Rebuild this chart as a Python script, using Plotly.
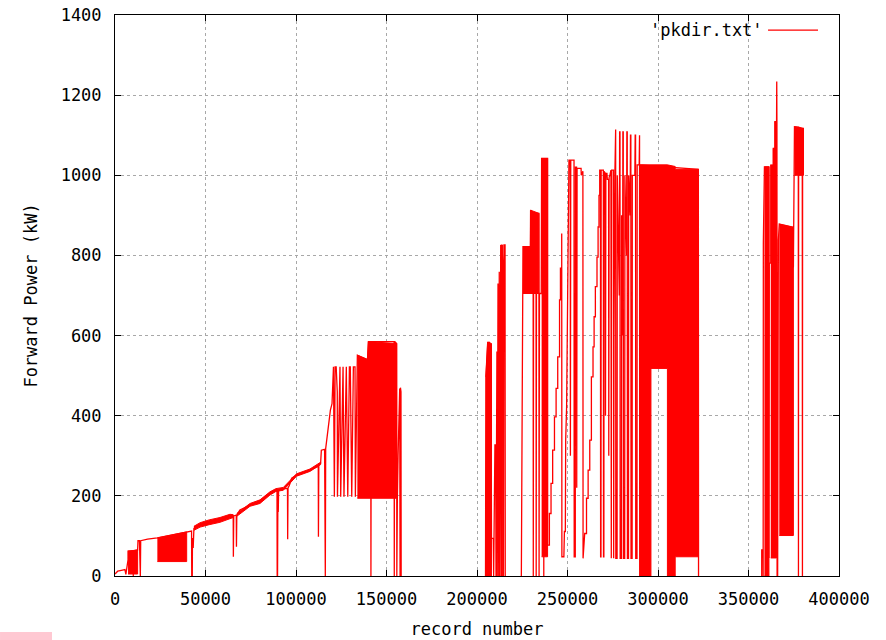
import plotly.graph_objects as go

# ---------------- data: (record number, forward power kW) ----------------
seg_low = [
    (0, 5), (1500, 12), (3500, 14), (5500, 16), (6000, 4), (6500, 16), (7200, 40), (7200, 62),
    (10000, 63), (10100, 0), (10300, 63), (12500, 65), (12700, 88), (13500, 88), (13700, 0),
    (14000, 0), (14200, 88), (18000, 92), (23400, 95), (31000, 102), (39600, 110), (41500, 112),
    (42300, 112), (42400, 0), (42700, 0), (42800, 95), (43200, 70), (43600, 119), (47000, 127),
    (52000, 133), (58000, 140), (63500, 150), (65300, 150), (65400, 48), (65600, 150),
    (67000, 152), (67100, 73), (67300, 152), (69000, 165), (74600, 177), (80100, 185),
    (85600, 206), (88900, 215), (89500, 215), (89600, 0), (89800, 0), (90000, 212), (90200, 160),
    (90400, 214), (93000, 218), (95300, 218), (95400, 92), (95600, 220), (96300, 226),
    (97600, 244), (100300, 252), (107700, 264), (111400, 272), (112300, 275), (112400, 98),
    (112600, 278), (113600, 281), (114000, 314), (115800, 316), (116000, 0), (116200, 0),
    (116400, 318), (117100, 348), (118000, 381), (119000, 414), (119900, 430), (120300, 522),
    (120700, 522), (121200, 198), (121600, 522), (122200, 522), (122800, 460), (122900, 198),
    (123900, 522), (124300, 522), (124700, 198), (125600, 522), (126000, 522), (126500, 198),
    (127400, 522), (127800, 522), (128600, 198), (129500, 522), (130000, 522), (130800, 198),
    (131700, 522), (132600, 522), (132800, 198), (133900, 551), (139500, 540), (140000, 585),
    (141300, 585), (141400, 0), (141600, 585), (154200, 585), (154300, 0), (154500, 585),
    (155600, 580), (155700, 0), (156000, 194), (156400, 300), (157000, 398), (157300, 468),
    (157500, 0), (157700, 470), (158000, 460), (158100, 0),
]

seg_c1 = [
    (204700, 0), (204900, 497), (205900, 583), (206800, 583), (206900, 0), (207000, 539),
    (207800, 580), (208000, 94), (209000, 94), (209200, 0), (209400, 94), (209900, 327),
    (210300, 327), (210500, 0), (210700, 560), (211000, 560), (211200, 0), (211600, 730),
    (212000, 0), (212300, 759), (212600, 0), (213100, 826), (213500, 0), (213800, 826),
    (214200, 785), (214600, 0), (214900, 826), (215500, 826), (215600, 0),
]

seg_c2 = [
    (224500, 0), (224700, 339), (224900, 123), (225100, 339), (225400, 822), (227000, 822),
    (227100, 705), (227300, 822), (229500, 822), (229600, 913), (231000, 905), (231100, 0),
    (231300, 905), (232600, 905), (232700, 0), (232900, 905), (234200, 905), (234300, 0),
    (234500, 705), (235500, 705), (235700, 1042), (236800, 1042), (236900, 0), (237100, 1042),
    (239000, 1042), (239000, 77), (240000, 77), (240000, 156), (240900, 156), (240900, 231),
    (241800, 231), (241800, 314), (242800, 314), (242800, 397), (243700, 397), (243700, 468),
    (244600, 468), (244600, 547), (245600, 547), (245600, 689), (246100, 689), (246100, 768),
    (246800, 768), (246800, 855), (246900, 855), (246900, 48), (248000, 48),
]

seg_c3 = [
    (248300, 111), (248800, 111), (249000, 339), (249500, 422), (250200, 868), (250800, 1038),
    (251500, 1038), (251600, 300), (251800, 1038), (253600, 1038), (253700, 48), (254300, 48),
    (254400, 1020), (255000, 1020), (255100, 220), (255300, 1017), (257500, 1017), (257600, 1000),
    (258500, 1010), (258600, 44), (259500, 106), (260500, 106), (260500, 194), (261400, 194),
    (261400, 264), (262300, 264), (262300, 339), (263200, 339), (263200, 497), (264100, 497),
    (264100, 572), (264700, 572), (264700, 647), (265400, 647), (265400, 722), (266300, 722),
    (266300, 796), (266900, 796), (266900, 871), (267400, 871), (267400, 950), (267800, 950),
]

seg_c4 = [
    (267800, 1013), (268200, 1013), (268300, 48), (268500, 48), (268600, 1013), (269800, 1013),
    (269900, 48), (270100, 48), (270200, 1010), (270900, 1005), (271000, 400), (271200, 1005),
    (271800, 1005), (272000, 990), (272700, 990), (272800, 300), (273000, 995), (273400, 1000),
    (274000, 1013), (274200, 44), (274400, 1013), (275400, 1013), (275500, 44), (275700, 600),
    (276200, 1010), (276400, 1114), (276600, 1114), (276700, 44), (277400, 44), (277500, 1000),
    (278600, 700), (278800, 1108), (279000, 1108), (279100, 44), (279800, 44), (279900, 900),
    (280400, 600), (280600, 1108), (280800, 1108), (280900, 44), (281600, 44), (281700, 1000),
    (282600, 800), (282800, 1108), (283000, 1108), (283100, 44), (283700, 44), (283800, 1000),
    (284600, 900), (284800, 1100), (285000, 1100), (285100, 44), (285700, 44), (285800, 1000),
    (287200, 1000), (287400, 1100), (287600, 1100), (287700, 44), (288400, 44), (288500, 1026),
    (289600, 1026), (289800, 1100), (289900, 0),
]

seg_c5 = [(290000, 1026), (322300, 1015), (322300, 48), (322400, 0)]

seg_c6 = [
    (357300, 0), (357300, 65), (358000, 65), (358100, 0), (358200, 830), (358800, 1021),
    (361300, 1021), (361300, 45), (361500, 781), (362300, 781), (362300, 1025), (363700, 1025),
    (363700, 1067), (364600, 1067), (364600, 1134), (365500, 1134), (365600, 1234),
    (365700, 1134), (365800, 0), (366100, 0), (366500, 838), (367000, 878), (374800, 870),
    (374800, 770), (375400, 1121), (377500, 1120), (377600, 0), (377700, 1120), (379700, 1117),
    (379800, 0), (379900, 1117), (380300, 1117), (380300, 1000),
]

# dense oscillation / noisy regions: record, upper envelope, lower envelope
band_a_rec = [7200, 12500];                 band_a_hi = [62, 65];              band_a_lo = [5, 5]
band_b_rec = [23400, 31000, 39600];         band_b_hi = [95, 102, 110];        band_b_lo = [36, 36, 36]
band_n_rec = [43600, 47000, 52000, 58000, 63500, 65300]
band_n_hi = [124, 133, 140, 146, 154, 153]
band_n_lo = [114, 122, 128, 134, 143, 146]
band_m_rec = [67300, 74600, 80100, 85600, 88900, 93000, 100300, 107700, 113600]
band_m_hi = [156, 181, 190, 210, 218, 221, 255, 267, 284]
band_m_lo = [149, 174, 181, 202, 211, 214, 249, 261, 278]
band_c_rec = [133900, 139500, 140000, 155600]; band_c_hi = [551, 540, 585, 580]; band_c_lo = [194, 194, 194, 194]
band_d_rec = [204900, 205900, 206800, 207800, 208000]; band_d_hi = [497, 583, 583, 580, 580]; band_d_lo = [0, 0, 0, 0, 0]
band_e_rec = [213100, 214200];              band_e_hi = [826, 826];            band_e_lo = [0, 0]
band_f_rec = [225400, 229500, 229600, 234200]; band_f_hi = [822, 822, 913, 905]; band_f_lo = [705, 705, 705, 705]
band_g_rec = [235700, 239000];              band_g_hi = [1042, 1042];          band_g_lo = [48, 48]
band_h_rec = [289900, 296100, 296100, 305200, 305200, 309500, 309500, 322300]
band_h_hi = [1026, 1026, 1026, 1026, 1026, 1022, 1015, 1015]
band_h_lo = [0, 0, 518, 518, 0, 0, 48, 48]
band_i_rec = [358800, 361300];              band_i_hi = [1021, 1021];          band_i_lo = [0, 0]
band_j_rec = [362300, 363700, 363700, 364600, 364600, 365500]
band_j_hi = [1025, 1025, 1067, 1067, 1134, 1134]
band_j_lo = [45, 45, 45, 45, 45, 45]
band_k_rec = [367000, 374800];              band_k_hi = [878, 870];            band_k_lo = [101, 101]
band_l_rec = [375400, 380300];              band_l_hi = [1121, 1117];          band_l_lo = [1000, 1000]

x_ticks = [0, 50000, 100000, 150000, 200000, 250000, 300000, 350000, 400000]
y_ticks = [0, 200, 400, 600, 800, 1000, 1200, 1400]
series_name = "'pkdir.txt'"

# ---------------- figure ----------------
RED = "#ff0000"
fig = go.Figure()

bands = [
    (band_a_rec, band_a_hi, band_a_lo), (band_b_rec, band_b_hi, band_b_lo),
    (band_n_rec, band_n_hi, band_n_lo), (band_m_rec, band_m_hi, band_m_lo),
    (band_c_rec, band_c_hi, band_c_lo), (band_d_rec, band_d_hi, band_d_lo),
    (band_e_rec, band_e_hi, band_e_lo), (band_f_rec, band_f_hi, band_f_lo),
    (band_g_rec, band_g_hi, band_g_lo), (band_h_rec, band_h_hi, band_h_lo),
    (band_i_rec, band_i_hi, band_i_lo), (band_j_rec, band_j_hi, band_j_lo),
    (band_k_rec, band_k_hi, band_k_lo), (band_l_rec, band_l_hi, band_l_lo),
]
for rec, hi, lo in bands:
    fig.add_trace(go.Scatter(
        x=list(rec) + list(rec)[::-1], y=list(hi) + list(lo)[::-1],
        mode="lines", fill="toself", fillcolor=RED,
        line=dict(color=RED, width=1), showlegend=False, hoverinfo="skip"))

segments = [seg_low, seg_c1, seg_c2 + seg_c3 + seg_c4 + seg_c5, seg_c6]
xs, ys = [], []
for seg in segments:
    xs += [p[0] for p in seg] + [None]
    ys += [p[1] for p in seg] + [None]
fig.add_trace(go.Scatter(x=xs, y=ys, mode="lines", connectgaps=False,
                         line=dict(color=RED, width=1.3), name=series_name, showlegend=False))

FONT = "DejaVu Sans Mono"
axis_common = dict(
    showgrid=True, gridcolor="#a8a8a8", griddash="dot", gridwidth=1,
    showline=True, linecolor="#000000", linewidth=1, mirror="ticks",
    ticks="inside", ticklen=6, tickcolor="#000000", zeroline=False,
    layer="above traces", automargin=False, ticklabeloverflow="allow",
    tickfont=dict(family=FONT, size=17, color="#000000"),
)
fig.update_xaxes(range=[0, 400000], tickvals=x_ticks, ticktext=[str(v) for v in x_ticks],
                 ticklabelstandoff=8,
                 title=dict(text="record number", standoff=14,
                            font=dict(family=FONT, size=17, color="#000000")),
                 **axis_common)
fig.update_yaxes(range=[0, 1400], tickvals=y_ticks, ticktext=[str(v) for v in y_ticks],
                 ticklabelstandoff=9,
                 title=dict(text="Forward Power (kW)", standoff=18,
                            font=dict(family=FONT, size=17, color="#000000")),
                 **axis_common)

fig.update_layout(
    width=886, height=640,
    margin=dict(l=115, r=47, t=15, b=64),
    plot_bgcolor="white", paper_bgcolor="white",
    showlegend=False,
    font=dict(family=FONT, size=17, color="#000000"),
    annotations=[dict(text=series_name, xref="paper", yref="paper", x=0.898, y=0.973,
                      xanchor="right", yanchor="middle", showarrow=False,
                      font=dict(family=FONT, size=17, color="#000000"))],
    shapes=[
        dict(type="line", xref="paper", yref="paper", x0=0.902, x1=0.971, y0=0.973, y1=0.973,
             line=dict(color=RED, width=1.3)),
        dict(type="rect", xref="paper", yref="paper", x0=-0.1588, x1=-0.0870, y0=-0.114,
             y1=-0.0998, fillcolor="#ffc8d2", line=dict(width=0)),
    ],
)

# remove the browser's default body margin so the 886x640 figure fills the window
fig.write_html("out.html", config={"displayModeBar": False, "staticPlot": True},
               post_script="document.body.style.margin='0';document.body.style.overflow='hidden';")
